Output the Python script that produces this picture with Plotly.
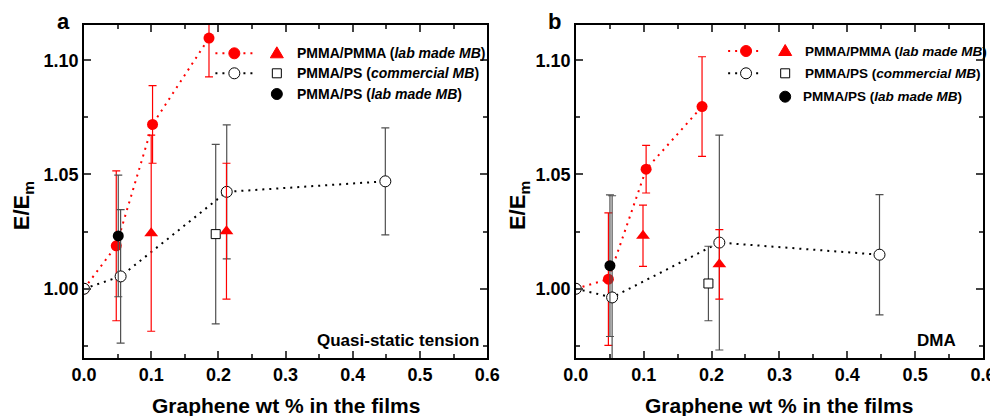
import plotly.graph_objects as go

# ---------------- data ----------------
# Panel a : quasi-static tension
a_red_x = [0.0, 0.048, 0.102, 0.186]
a_red_y = [1.000, 1.0188, 1.0719, 1.1097]
a_red_e = [0.0, 0.0328, 0.0170, 0.0170]

a_tri_x = [0.100, 0.212]
a_tri_y = [1.0243, 1.0252]
a_tri_e = [0.0429, 0.0297]

a_open_x = [0.0, 0.0545, 0.2124, 0.4484]
a_open_y = [1.000, 1.0054, 1.0424, 1.0470]
a_open_e = [0.0, 0.0292, 0.0293, 0.0234]

a_sq_x = [0.196]
a_sq_y = [1.0239]
a_sq_e = [0.0393]

a_blk_x = [0.051]
a_blk_y = [1.0231]
a_blk_e = [0.0266]

# Panel b : DMA
b_red_x = [0.0, 0.048, 0.1036, 0.186]
b_red_y = [1.000, 1.0042, 1.0523, 1.0797]
b_red_e = [0.0, 0.0290, 0.0104, 0.0218]

b_tri_x = [0.099, 0.2115]
b_tri_y = [1.0232, 1.0107]
b_tri_e = [0.0134, 0.0152]

b_open_x = [0.0, 0.0535, 0.2115, 0.4475]
b_open_y = [1.000, 0.9962, 1.0202, 1.0149]
b_open_e = [0.0, 0.0445, 0.0470, 0.0263]

b_sq_x = [0.1954]
b_sq_y = [1.0023]
b_sq_e = [0.0163]

b_blk_x = [0.0503]
b_blk_y = [1.0101]
b_blk_e = [0.0310]

x_range = [0.0, 0.6]
y_range = [0.9697, 1.1154]

legend_labels = [
    "PMMA/PMMA (<i>lab made MB</i>)",
    "PMMA/PS (<i>commercial MB</i>)",
    "PMMA/PS (<i>lab made MB</i>)",
]
panel_labels = ["a", "b"]
mode_labels = ["Quasi-static tension", "DMA"]
x_title = "Graphene wt % in the films"
y_title = "E/E<sub>m</sub>"

# ---------------- layout helpers ----------------
# page body has an 8px margin; the capture squeezes the page width slightly (~0.99)
OFF = 8
SX = 0.99
L, R, T, B = 83, 986, 25, 358          # plot-area edges in screenshot pixels
W = 1000
H = 416 - OFF
ML = L / SX - OFF
MR = W - (R / SX - OFF)
FONT = "Liberation Sans, Arial, sans-serif"
RED = "#ff0000"
GREY = "#505050"


def px(xp):
    return (xp - L) / (R - L)


def py(yp):
    return (B - yp) / (B - T)


fig = go.Figure()


def add_panel(xa, ya, red, tri, opn, sq, blk):
    ax = dict(xaxis=xa, yaxis=ya)
    fig.add_trace(go.Scatter(
        x=red[0], y=red[1], mode="lines+markers", **ax,
        line=dict(color=RED, width=2, dash="2px,5px"),
        marker=dict(color=RED, size=11, symbol="circle"),
        error_y=dict(type="data", array=red[2], color=RED, thickness=1.2, width=4),
        showlegend=False))
    fig.add_trace(go.Scatter(
        x=opn[0], y=opn[1], mode="lines+markers", **ax,
        line=dict(color="black", width=2, dash="2px,5px"),
        marker=dict(color="white", size=11, symbol="circle",
                    line=dict(color="black", width=1)),
        error_y=dict(type="data", array=opn[2], color=GREY, thickness=1.2, width=4),
        showlegend=False))
    fig.add_trace(go.Scatter(
        x=sq[0], y=sq[1], mode="markers", **ax,
        marker=dict(color="white", size=9, symbol="square",
                    line=dict(color="black", width=1)),
        error_y=dict(type="data", array=sq[2], color=GREY, thickness=1.2, width=4),
        showlegend=False))
    fig.add_trace(go.Scatter(
        x=tri[0], y=tri[1], mode="markers", **ax,
        marker=dict(color=RED, size=12, symbol="triangle-up"),
        error_y=dict(type="data", array=tri[2], color=RED, thickness=1.2, width=4),
        showlegend=False))
    fig.add_trace(go.Scatter(
        x=blk[0], y=blk[1], mode="markers", **ax,
        marker=dict(color="black", size=11, symbol="circle"),
        error_y=dict(type="data", array=blk[2], color=GREY, thickness=1.2, width=4),
        showlegend=False))


add_panel("x", "y", (a_red_x, a_red_y, a_red_e), (a_tri_x, a_tri_y, a_tri_e),
          (a_open_x, a_open_y, a_open_e), (a_sq_x, a_sq_y, a_sq_e),
          (a_blk_x, a_blk_y, a_blk_e))
add_panel("x2", "y2", (b_red_x, b_red_y, b_red_e), (b_tri_x, b_tri_y, b_tri_e),
          (b_open_x, b_open_y, b_open_e), (b_sq_x, b_sq_y, b_sq_e),
          (b_blk_x, b_blk_y, b_blk_e))

tickfont = dict(family=FONT, size=18, color="black", weight="bold")


def xax(domain):
    return dict(domain=domain, range=x_range, dtick=0.1, tick0=0, tickformat=".1f",
                ticks="inside", ticklen=7, tickwidth=1.5, showline=True,
                linecolor="black", linewidth=1.5, mirror="ticks", showgrid=False,
                zeroline=False, tickfont=tickfont,
                minor=dict(dtick=0.05, ticks="inside", ticklen=4, tickwidth=1.5,
                           showgrid=False))


def yax(anchor):
    return dict(domain=[0, 1], range=y_range, dtick=0.05, tick0=1.0, tickformat=".2f",
                anchor=anchor, ticks="inside", ticklen=7, tickwidth=1.5, showline=True,
                linecolor="black", linewidth=1.5, mirror="ticks", showgrid=False,
                zeroline=False, tickfont=tickfont,
                minor=dict(dtick=0.025, ticks="inside", ticklen=4, tickwidth=1.5,
                           showgrid=False))


annotations = []
shapes = []

panels = [
    dict(label_x=62.7, ytitle_x=22, xtitle_x=286, mode_x=481.7,
         leg_rows=[53.3, 73.3, 94.0], line=(215, 253), m1=234, m2=276.7,
         text_x=[295, 295, 295], leg_size=14),
    dict(label_x=556, ytitle_x=520, xtitle_x=781, mode_x=961,
         leg_rows=[51.0, 73.3, 96.7], line=(730, 765), m1=748, m2=787.3,
         text_x=[804.7, 804.7, 803], leg_size=13.5),
]

for i, p in enumerate(panels):
    bold = dict(family=FONT, color="black", weight="bold")
    annotations.append(dict(text=panel_labels[i], x=px(p["label_x"]), y=py(21.7),
                            xref="paper", yref="paper", showarrow=False,
                            xanchor="center", yanchor="middle",
                            font=dict(size=22, **bold)))
    annotations.append(dict(text=x_title, x=px(p["xtitle_x"]), y=py(405),
                            xref="paper", yref="paper", showarrow=False,
                            xanchor="center", yanchor="middle",
                            font=dict(size=21, **bold)))
    annotations.append(dict(text=y_title, x=px(p["ytitle_x"]), y=py(206),
                            xref="paper", yref="paper", showarrow=False,
                            textangle=-90, xanchor="center", yanchor="middle",
                            font=dict(size=22, **bold)))
    annotations.append(dict(text=mode_labels[i], x=px(p["mode_x"]), y=py(340),
                            xref="paper", yref="paper", showarrow=False,
                            xanchor="right", yanchor="middle",
                            font=dict(size=17, **bold)))
    for j, lab in enumerate(legend_labels):
        annotations.append(dict(text=lab, x=px(p["text_x"][j]), y=py(p["leg_rows"][j]),
                                xref="paper", yref="paper", showarrow=False,
                                xanchor="left", yanchor="middle",
                                font=dict(size=p["leg_size"], **bold)))
    r1, r2, r3 = p["leg_rows"]
    for row, col in ((r1, RED), (r2, "black")):
        shapes.append(dict(type="line", xref="paper", yref="paper",
                           x0=px(p["line"][0]), x1=px(p["line"][1]),
                           y0=py(row), y1=py(row),
                           line=dict(color=col, width=2, dash="2px,5px")))

    def circ(xc, yc, fill, edge, r=5.5):
        shapes.append(dict(type="circle", xref="paper", yref="paper",
                           xsizemode="pixel", ysizemode="pixel",
                           xanchor=px(xc), yanchor=py(yc),
                           x0=-r, x1=r, y0=-r, y1=r, fillcolor=fill,
                           line=dict(color=edge, width=1)))
    circ(p["m1"], r1, RED, RED)
    circ(p["m1"], r2, "white", "black")
    circ(p["m2"], r3, "black", "black")
    shapes.append(dict(type="path", xref="paper", yref="paper",
                       xsizemode="pixel", ysizemode="pixel",
                       xanchor=px(p["m2"]), yanchor=py(r1),
                       path="M -6.5,-4.5 L 6.5,-4.5 L 0,6.5 Z",
                       fillcolor=RED, line=dict(color=RED, width=1)))
    shapes.append(dict(type="rect", xref="paper", yref="paper",
                       xsizemode="pixel", ysizemode="pixel",
                       xanchor=px(p["m2"]), yanchor=py(r2),
                       x0=-4.5, x1=4.5, y0=-4.5, y1=4.5, fillcolor="white",
                       line=dict(color="black", width=1)))

fig.update_layout(
    width=W, height=H,
    margin=dict(l=ML, r=MR, t=T - OFF, b=416 - B, pad=0),
    paper_bgcolor="white", plot_bgcolor="white",
    font=dict(family=FONT, color="black"),
    xaxis=xax([0, px(488)]),
    yaxis=yax("x"),
    xaxis2=xax([px(577), 1]),
    yaxis2=yax("x2"),
    annotations=annotations,
    shapes=shapes,
    showlegend=False,
)

fig.write_html("out.html", config={"displayModeBar": False})
